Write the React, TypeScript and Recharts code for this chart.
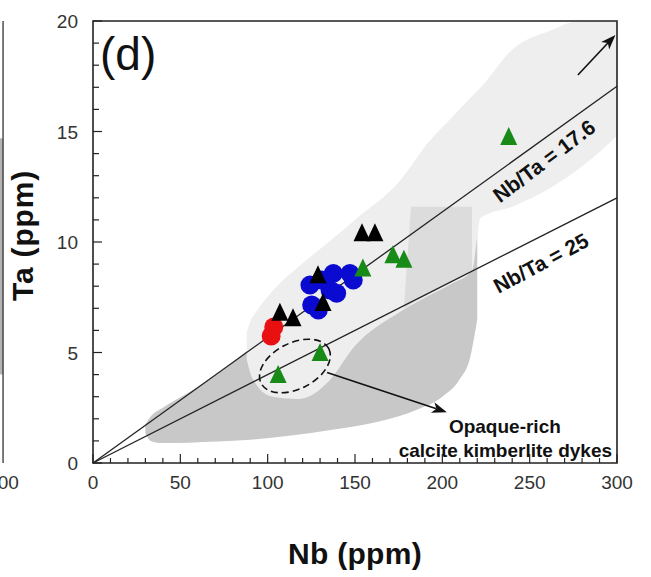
import React from 'react';
import {
  ComposedChart,
  XAxis,
  YAxis,
  Scatter,
  Area,
  ReferenceLine,
  ReferenceDot,
  ReferenceArea,
  Label,
} from 'recharts';

// ---- axes ----
const NB_TICKS = [0, 10, 20, 30, 40, 50, 60, 70, 80, 90, 100, 110, 120, 130, 140, 150, 160, 170, 180, 190, 200, 210, 220, 230, 240, 250, 260, 270, 280, 290, 300];
const NB_MAJOR = [0, 50, 100, 150, 200, 250, 300];
const TA_TICKS = [0, 1, 2, 3, 4, 5, 6, 7, 8, 9, 10, 11, 12, 13, 14, 15, 16, 17, 18, 19, 20];
const TA_MAJOR = [0, 5, 10, 15, 20];

// ---- samples (Nb, Ta in ppm) ----
const redCircles = [
  { nb: 103.5, ta: 6.15 },
  { nb: 102.0, ta: 5.75 },
];
const blueCircles = [
  { nb: 124.2, ta: 8.05 },
  { nb: 137.6, ta: 8.58 },
  { nb: 147.1, ta: 8.58 },
  { nb: 135.7, ta: 7.83 },
  { nb: 139.5, ta: 7.68 },
  { nb: 125.2, ta: 7.15 },
  { nb: 129.0, ta: 6.92 },
  { nb: 149.0, ta: 8.28 },
  { nb: 130.9, ta: 8.28 },
];
const blackTriangles = [
  { nb: 107.0, ta: 6.8 },
  { nb: 114.5, ta: 6.55 },
  { nb: 128.8, ta: 8.5 },
  { nb: 131.7, ta: 7.24 },
  { nb: 154.0, ta: 10.4 },
  { nb: 161.4, ta: 10.4 },
];
const greenTriangles = [
  { nb: 106.0, ta: 3.98 },
  { nb: 130.0, ta: 4.98 },
  { nb: 154.5, ta: 8.8 },
  { nb: 171.7, ta: 9.4 },
  { nb: 178.0, ta: 9.2 },
  { nb: 238.0, ta: 14.75 },
];

// ---- shaded fields: [lower Ta, upper Ta] along Nb ----
const darkField = [
  { nb: 30, range: [1.35, 1.75] },
  { nb: 33, range: [1.0, 2.1] },
  { nb: 40, range: [0.9, 2.5] },
  { nb: 55, range: [0.92, 3.2] },
  { nb: 71, range: [0.97, 4.0] },
  { nb: 90, range: [1.05, 5.2] },
  { nb: 137, range: [1.5, 7.8] },
  { nb: 165, range: [1.9, 9.5] },
  { nb: 185, range: [2.4, 11.6] },
  { nb: 200, range: [3.0, 11.6] },
  { nb: 210, range: [3.8, 11.6] },
  { nb: 216, range: [4.8, 11.6] },
  { nb: 218.5, range: [5.8, 11.6] },
  { nb: 220, range: [6.5, 11.0] },
];
const lightField = [
  { nb: 88, range: [4.7, 5.9] },
  { nb: 90, range: [4.1, 6.4] },
  { nb: 94, range: [3.5, 6.9] },
  { nb: 103, range: [3.0, 7.8] },
  { nb: 118, range: [2.9, 8.9] },
  { nb: 135, range: [3.7, 10.0] },
  { nb: 150, range: [5.3, 11.0] },
  { nb: 175, range: [6.8, 12.7] },
  { nb: 193, range: [7.6, 14.6] },
  { nb: 205, range: [8.1, 15.6] },
  { nb: 217, range: [8.7, 16.6] },
  { nb: 222, range: [11.1, 17.0] },
  { nb: 240, range: [11.6, 18.7] },
  { nb: 263, range: [12.5, 19.6] },
  { nb: 278, range: [13.3, 20] },
  { nb: 300, range: [14.8, 20] },
];
const overlapField = [
  { nb: 178, range: [7.0, 7.0] },
  { nb: 182, range: [7.2, 11.6] },
  { nb: 217, range: [8.7, 11.6] },
];

// ---- reference ratios and annotations ----
const RATIOS = [17.6, 25];
const ratioLabels = [
  { text: 'Nb/Ta = 17.6', nb: 258.2, ta: 13.67, angle: -37 },
  { text: 'Nb/Ta = 25', nb: 256.4, ta: 9.05, angle: -28 },
];
const trendArrow = [{ x: 277.6, y: 17.56 }, { x: 299.1, y: 19.37 }];
const dykeArrow = [{ x: 134, y: 4.1 }, { x: 202.6, y: 2.3 }];
const dykeGroup = { nb: 115.6, ta: 4.39 };
const dykeNote = [
  { text: 'Opaque-rich', nb: 235.8, ta: 1.36 },
  { text: 'calcite kimberlite dykes', nb: 236.1, ta: 0.27 },
];
const panelTag = { text: '(d)', nb: 4.0, ta: 17.78 };
const neighbourEdgeNb = -51.5;

const FONT = '"Liberation Sans", Arial, sans-serif';

const XTick = (p: any) => {
  const { x, y, payload } = p;
  const major = NB_MAJOR.includes(payload.value);
  return (
    <g>
      <line x1={x} y1={y} x2={x} y2={y - (major ? 9 : 5)} stroke="#222" strokeWidth={1.2} />
      {major && (
        <text x={x} y={y + 26} textAnchor="middle" fontSize={19} fill="#333" fontFamily={FONT}>
          {payload.value}
        </text>
      )}
    </g>
  );
};

const YTick = (p: any) => {
  const { x, y, payload } = p;
  const major = TA_MAJOR.includes(payload.value);
  return (
    <g>
      <line x1={x} y1={y} x2={x + (major ? 9 : 6)} y2={y} stroke="#222" strokeWidth={1.2} />
      {major && (
        <text x={x - 15} y={y + 7} textAnchor="end" fontSize={19} fill="#333" fontFamily={FONT}>
          {payload.value}
        </text>
      )}
    </g>
  );
};

const circleShape = (color: string) => (p: any) => (
  <circle cx={p.cx} cy={p.cy} r={9.5} fill={color} />
);

const triangleShape = (color: string) => (p: any) => {
  const { cx, cy } = p;
  return (
    <polygon
      points={`${cx},${cy - 10} ${cx + 8.5},${cy + 8} ${cx - 8.5},${cy + 8}`}
      fill={color}
    />
  );
};

const arrowShape = (p: any) => {
  const x1 = Number(p.x1), y1 = Number(p.y1), x2 = Number(p.x2), y2 = Number(p.y2);
  const ang = Math.atan2(y2 - y1, x2 - x1);
  const c = Math.cos(ang), s = Math.sin(ang);
  const L = 15, W = 5.5, N = 11;
  const bx = x2 - L * c, by = y2 - L * s;
  const nx = x2 - N * c, ny = y2 - N * s;
  const pts = `${x2},${y2} ${bx - W * s},${by + W * c} ${nx},${ny} ${bx + W * s},${by - W * c}`;
  return (
    <g>
      <line x1={x1} y1={y1} x2={nx} y2={ny} stroke="#111" strokeWidth={1.6} />
      <polygon points={pts} fill="#111" />
    </g>
  );
};

const ellipseShape = (p: any) => (
  <ellipse
    cx={p.cx}
    cy={p.cy}
    rx={38}
    ry={23}
    transform={`rotate(-27 ${p.cx} ${p.cy})`}
    fill="none"
    stroke="#111"
    strokeWidth={1.6}
    strokeDasharray="7 4"
  />
);

const textShape = (text: string, opts: any) => (p: any) => (
  <text
    x={p.cx}
    y={p.cy}
    fontFamily={FONT}
    fill="#111"
    {...opts}
    transform={opts.angle ? `rotate(${opts.angle} ${p.cx} ${p.cy})` : undefined}
  >
    {text}
  </text>
);

export default function App() {
  return (
    <div style={{ position: 'absolute', left: 0, top: 0, width: 651, height: 577, background: '#fff' }}>
      <ComposedChart width={651} height={577} margin={{ top: 21, right: 34, bottom: 0, left: 0 }}>
        <XAxis
          type="number"
          dataKey="nb"
          domain={[0, 300]}
          ticks={NB_TICKS}
          interval={0}
          allowDataOverflow
          axisLine={false}
          tickLine={false}
          tickSize={0}
          tickMargin={0}
          tick={<XTick />}
          height={114}
        >
          <Label
            content={(p: any) => {
              const vb = p.viewBox;
              return (
                <text
                  x={vb.x + vb.width / 2}
                  y={564}
                  textAnchor="middle"
                  fontSize={30}
                  letterSpacing={0.3}
                  fontWeight="bold"
                  fontFamily={FONT}
                  fill="#111"
                >
                  Nb (ppm)
                </text>
              );
            }}
          />
        </XAxis>
        <YAxis
          type="number"
          domain={[0, 20]}
          ticks={TA_TICKS}
          interval={0}
          allowDataOverflow
          axisLine={false}
          tickLine={false}
          tickSize={0}
          tickMargin={0}
          tick={<YTick />}
          width={93}
        >
          <Label
            content={(p: any) => {
              const vb = p.viewBox;
              const cy = vb.y + vb.height / 2 - 6.5;
              return (
                <text
                  x={33}
                  y={cy}
                  transform={`rotate(-90 33 ${cy})`}
                  textAnchor="middle"
                  fontSize={30}
                  letterSpacing={0.8}
                  fontWeight="bold"
                  fontFamily={FONT}
                  fill="#111"
                >
                  Ta (ppm)
                </text>
              );
            }}
          />
        </YAxis>

        <Area
          data={darkField}
          dataKey="range"
          type="monotone"
          stroke="none"
          fill="#c8c8c8"
          fillOpacity={1}
          dot={false}
          activeDot={false}
          isAnimationActive={false}
        />
        <Area
          data={lightField}
          dataKey="range"
          type="monotone"
          stroke="none"
          fill="#eeeeee"
          fillOpacity={1}
          dot={false}
          activeDot={false}
          isAnimationActive={false}
        />
        <Area
          data={overlapField}
          dataKey="range"
          type="linear"
          stroke="none"
          fill="#dcdcdc"
          fillOpacity={1}
          dot={false}
          activeDot={false}
          isAnimationActive={false}
        />

        <Scatter data={redCircles} dataKey="ta" shape={circleShape('#e81010')} isAnimationActive={false} />
        <Scatter data={blueCircles} dataKey="ta" shape={circleShape('#0a0ad0')} isAnimationActive={false} />
        <Scatter data={blackTriangles} dataKey="ta" shape={triangleShape('#000000')} isAnimationActive={false} />
        <Scatter data={greenTriangles} dataKey="ta" shape={triangleShape('#178a17')} isAnimationActive={false} />

        {RATIOS.map((r) => (
          <ReferenceLine
            key={r}
            segment={[{ x: 0, y: 0 }, { x: 300, y: 300 / r }]}
            stroke="#222"
            strokeWidth={1.3}
            ifOverflow="visible"
          />
        ))}
        {ratioLabels.map((l) => (
          <ReferenceDot
            key={l.text}
            x={l.nb}
            y={l.ta}
            ifOverflow="visible"
            shape={textShape(l.text, {
              angle: l.angle,
              textAnchor: 'middle',
              dominantBaseline: 'central',
              fontSize: 21,
              fontWeight: 'bold',
            })}
          />
        ))}

        <ReferenceLine segment={trendArrow} shape={arrowShape} ifOverflow="visible" />
        <ReferenceLine segment={dykeArrow} shape={arrowShape} ifOverflow="visible" />
        <ReferenceDot x={dykeGroup.nb} y={dykeGroup.ta} ifOverflow="visible" shape={ellipseShape} />
        {dykeNote.map((n) => (
          <ReferenceDot
            key={n.text}
            x={n.nb}
            y={n.ta}
            ifOverflow="visible"
            shape={textShape(n.text, { textAnchor: 'middle', fontSize: 19, fontWeight: 'bold' })}
          />
        ))}
        <ReferenceDot
          x={panelTag.nb}
          y={panelTag.ta}
          ifOverflow="visible"
          shape={textShape(panelTag.text, { textAnchor: 'start', fontSize: 46 })}
        />

        {/* edge of the neighbouring panel */}
        <ReferenceArea
          x1={neighbourEdgeNb - 2.5}
          x2={neighbourEdgeNb}
          y1={4}
          y2={14.7}
          fill="#b4b4b4"
          fillOpacity={1}
          stroke="none"
          ifOverflow="visible"
        />
        <ReferenceLine x={neighbourEdgeNb} stroke="#333" strokeWidth={1.3} ifOverflow="visible" />
        <ReferenceDot
          x={neighbourEdgeNb}
          y={0}
          ifOverflow="visible"
          shape={(p: any) => (
            <text x={p.cx} y={p.cy + 26} textAnchor="middle" fontSize={19} fill="#333" fontFamily={FONT}>
              300
            </text>
          )}
        />

        {/* plot frame */}
        <ReferenceArea
          x1={0}
          x2={300}
          y1={0}
          y2={20}
          fill="none"
          stroke="#222"
          strokeWidth={1.6}
          ifOverflow="visible"
        />
      </ComposedChart>
    </div>
  );
}
